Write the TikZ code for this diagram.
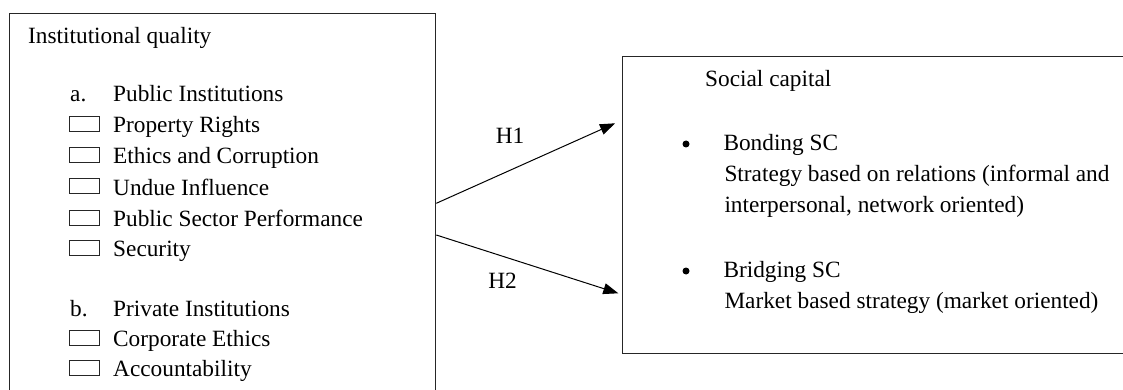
\documentclass[tikz,border=0pt]{standalone}
\usepackage{fontspec}
\setmainfont{Liberation Serif}
\usetikzlibrary{arrows.meta}
\tikzset{
  frame/.style={draw=black!85, line width=1.3pt, inner sep=0pt, anchor=north west},
  txt/.style={anchor=base west, inner sep=0pt, font=\fontsize{23.3}{28}\selectfont},
  chk/.style={draw=black!85, line width=1pt, inner sep=0pt, minimum width=30pt, minimum height=15pt, anchor=south west},
  dot/.style={circle, fill=black, inner sep=0pt, minimum size=7pt},
  conn/.style={line width=1pt, -{Triangle[length=15pt,width=11pt]}},
}
\begin{document}
\begin{tikzpicture}[x=1pt,y=-1pt]
\useasboundingbox (0,0) rectangle (1123,390);
\clip (0,0) rectangle (1123,390);
\fill[white] (0,0) rectangle (1123,390);
% boxes
\node[frame, minimum width=426pt, minimum height=400pt] (iq) at (9,13) {};
\node[frame, minimum width=520pt, minimum height=297pt] (sc) at (622,56) {};
% left texts
\node[txt] (t0) at (28,43.3) {Institutional quality};
\node[txt] (la) at (70,101.7) {a.};
\node[txt] (ta) at (113,101.7) {Public Institutions};
\node[chk] (c1) at (69,132) {};
\node[txt] (t1) at (113,133) {Property Rights};
\node[chk] (c2) at (69,163) {};
\node[txt] (t2) at (113,164) {Ethics and Corruption};
\node[chk] (c3) at (69,194) {};
\node[txt] (t3) at (113,195) {Undue Influence};
\node[chk] (c4) at (69,225.7) {};
\node[txt] (t4) at (113,226.7) {Public Sector Performance};
\node[chk] (c5) at (69,255.7) {};
\node[txt] (t5) at (113,256.7) {Security};
\node[txt] (lb) at (70,316.7) {b.};
\node[txt] (tb) at (113,316.7) {Private Institutions};
\node[chk] (c6) at (69,345.7) {};
\node[txt] (t6) at (113,346.7) {Corporate Ethics};
\node[chk] (c7) at (69,375.7) {};
\node[txt] (t7) at (113,376.7) {Accountability};
% right texts
\node[txt] (s0) at (705,86.7) {Social capital};
\node[dot] (d1) at (686,144) {};
\node[txt] (s1) at (723.3,151) {Bonding SC};
\node[txt] (s1a) at (724.3,181.7) {Strategy based on relations (informal and};
\node[txt] (s1b) at (724.3,212.7) {interpersonal, network oriented)};
\node[dot] (d2) at (686,271) {};
\node[txt] (s2) at (723.3,277.3) {Bridging SC};
\node[txt] (s2a) at (724.3,308.3) {Market based strategy (market oriented)};
% connectors
\coordinate (h1s) at (iq.east |- 0,203.3);
\coordinate (h2s) at (iq.east |- 0,235);
\coordinate (h1e) at (615,123.3);
\coordinate (h2e) at (618.3,293.3);
\draw[conn] (h1s) -- (h1e);
\draw[conn] (h2s) -- (h2e);
\node[txt, anchor=base] (l1) at (510,143.3) {H1};
\node[txt, anchor=base] (l2) at (502.5,288.3) {H2};
\end{tikzpicture}
\end{document}
